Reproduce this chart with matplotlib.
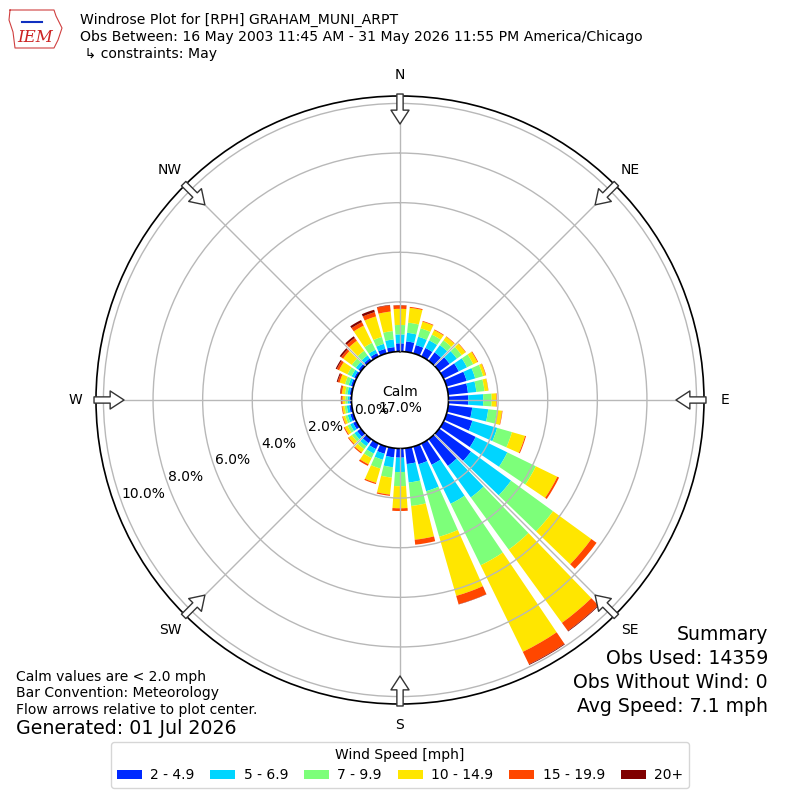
import matplotlib
matplotlib.use('Agg')
import matplotlib.pyplot as plt
import numpy as np

# direction bins (degrees, meteorological) and percent of obs per speed bin
directions = np.arange(0, 360, 10)
speed_labels = ['2 - 4.9', '5 - 6.9', '7 - 9.9', '10 - 14.9', '15 - 19.9', '20+']

pct_2_5 = [0.33, 0.42, 0.35, 0.38, 0.42, 0.52, 0.68, 0.84, 0.80, 0.80, 0.97, 1.08,
           1.44, 1.58, 1.33, 0.95, 0.74, 0.64, 0.37, 0.37, 0.30, 0.25, 0.20, 0.18,
           0.15, 0.13, 0.10, 0.08, 0.08, 0.10, 0.10, 0.12, 0.12, 0.15, 0.19, 0.19]
pct_5_7 = [0.36, 0.35, 0.35, 0.34, 0.36, 0.36, 0.37, 0.36, 0.34, 0.60, 0.65, 1.04,
           1.42, 2.00, 1.57, 1.75, 1.13, 0.75, 0.58, 0.40, 0.25, 0.20, 0.15, 0.14,
           0.13, 0.11, 0.10, 0.08, 0.09, 0.10, 0.12, 0.13, 0.15, 0.15, 0.21, 0.31]
pct_7_10 = [0.38, 0.41, 0.35, 0.26, 0.24, 0.24, 0.28, 0.33, 0.33, 0.34, 0.36, 0.62,
            1.28, 2.09, 2.60, 2.76, 1.91, 0.95, 0.57, 0.42, 0.37, 0.20, 0.15, 0.13,
            0.12, 0.10, 0.09, 0.09, 0.10, 0.15, 0.18, 0.20, 0.23, 0.31, 0.29, 0.34]
pct_10_15 = [0.65, 0.60, 0.28, 0.20, 0.18, 0.19, 0.19, 0.11, 0.15, 0.19, 0.20, 0.55,
             0.96, 1.91, 3.65, 3.88, 2.48, 1.37, 0.89, 0.69, 0.60, 0.28, 0.16, 0.15,
             0.13, 0.10, 0.09, 0.11, 0.13, 0.23, 0.38, 0.43, 0.50, 0.77, 0.86, 0.79]
pct_15_20 = [0.14, 0.04, 0.03, 0.03, 0.02, 0.02, 0.03, 0.02, 0.01, 0.02, 0.02, 0.04,
             0.08, 0.26, 0.40, 0.56, 0.35, 0.20, 0.11, 0.05, 0.05, 0.07, 0.05, 0.04,
             0.04, 0.03, 0.03, 0.05, 0.06, 0.08, 0.10, 0.10, 0.14, 0.16, 0.18, 0.25]
pct_20_up = [0.01, 0.00, 0.00, 0.00, 0.00, 0.00, 0.00, 0.00, 0.00, 0.00, 0.00, 0.00,
             0.00, 0.00, 0.03, 0.03, 0.01, 0.00, 0.00, 0.00, 0.00, 0.00, 0.00, 0.00,
             0.00, 0.00, 0.00, 0.02, 0.02, 0.04, 0.05, 0.07, 0.08, 0.09, 0.10, 0.02]

calm_pct = 17.0
ring_values = [0, 2, 4, 6, 8, 10]
compass_angles = [0, 45, 90, 135, 180, 225, 270, 315]
compass_labels = ['N', 'NE', 'E', 'SE', 'S', 'SW', 'W', 'NW']

summary = ['Summary', 'Obs Used: 14359', 'Obs Without Wind: 0', 'Avg Speed: 7.1 mph']

series = [pct_2_5, pct_5_7, pct_7_10, pct_10_15, pct_15_20, pct_20_up]
colors = plt.cm.jet(np.linspace(0, 1, 7)[1:])

fig = plt.figure(figsize=(8, 8), dpi=100)
ax = fig.add_axes([0.12, 0.12, 0.76, 0.76], projection='polar')
ax.set_theta_zero_location('N')
ax.set_theta_direction(-1)
ax.set_rorigin(-1.955)
ax.set_ylim(0, 10.3)

theta = np.deg2rad(directions)
bottom = np.zeros(len(directions))
handles = []
for vals, col, lab in zip(series, colors, speed_labels):
    vals = np.array(vals)
    b = ax.bar(theta, vals, width=np.deg2rad(8), bottom=bottom, color=col,
               edgecolor='none', zorder=2, label=lab)
    handles.append(b)
    bottom = bottom + vals

ax.set_yticks(ring_values[1:])
ax.set_yticklabels([])
ax.set_xticks(np.deg2rad(compass_angles))
ax.set_xticklabels([])
ax.set_axisbelow(False)
ax.grid(True, color='#b8b8b8', lw=1)
ax.spines['polar'].set_linewidth(1.2)
ax.spines['inner'].set_color('black')
ax.spines['inner'].set_linewidth(1.2)

for ang, lab in zip(compass_angles, compass_labels):
    ax.text(np.deg2rad(ang), 11.15, lab, ha='center', va='center', fontsize=10,
            clip_on=False)
    ax.annotate('', xy=(np.deg2rad(ang), 9.17), xytext=(np.deg2rad(ang), 10.38),
                arrowprops=dict(arrowstyle='simple,head_length=1.0,head_width=1.3,tail_width=0.45',
                                fc='white', ec='#333333', lw=1, shrinkA=0, shrinkB=0),
                annotation_clip=False)

for v in ring_values:
    ax.text(np.deg2rad(250), v, '%.1f%%' % v, ha='left', va='bottom', fontsize=10)

ax.text(0.5, 0.5, 'Calm\n%.1f%%' % calm_pct, transform=ax.transAxes,
        ha='center', va='center', fontsize=10)

# rough logo: state outline plus IEM letters
logo = fig.add_axes([8 / 800, 1 - 50 / 800, 56 / 800, 42 / 800])
logo.plot([2, 46, 48, 54, 50, 46, 7, 5, 1, 2], [40, 40, 34, 22, 10, 2, 2, 18, 30, 40],
          color='#d04040', lw=0.8)
logo.plot([14, 34], [28, 28], color='#1030c0', lw=1.5)
logo.set_xlim(0, 56)
logo.set_ylim(0, 42)
logo.axis('off')
fig.text(35 / 800, 1 - 38 / 800, 'IEM', color='#cc2222', fontsize=12,
         family='serif', style='italic', ha='center', va='center')

# header
fig.text(80 / 800, 1 - 20 / 800, 'Windrose Plot for [RPH] GRAHAM_MUNI_ARPT',
         fontsize=10.1, va='center')
fig.text(80 / 800, 1 - 37 / 800,
         'Obs Between: 16 May 2003 11:45 AM - 31 May 2026 11:55 PM America/Chicago',
         fontsize=10.1, va='center')
fig.text(80 / 800, 1 - 54 / 800, ' \u21b3 constraints: May', fontsize=10.1, va='center')

# footer notes
fig.text(16 / 800, 1 - 677 / 800, 'Calm values are < 2.0 mph', fontsize=10, va='center')
fig.text(16 / 800, 1 - 693 / 800, 'Bar Convention: Meteorology', fontsize=10, va='center')
fig.text(16 / 800, 1 - 710 / 800, 'Flow arrows relative to plot center.', fontsize=10,
         va='center')
fig.text(16 / 800, 1 - 729 / 800, 'Generated: 01 Jul 2026', fontsize=13.7, va='center')

for i, line in enumerate(summary):
    fig.text(768 / 800, 1 - (635 + 23.7 * i) / 800, line, fontsize=13.6,
             ha='right', va='center')

fig.legend(handles=handles, labels=speed_labels, loc='center',
           bbox_to_anchor=(0.5, 1 - 765 / 800), ncol=6, title='Wind Speed [mph]',
           fontsize=10, title_fontsize=10, handlelength=1.8, handletextpad=0.6,
           columnspacing=1.15)

fig.savefig('out.png', dpi=100)
